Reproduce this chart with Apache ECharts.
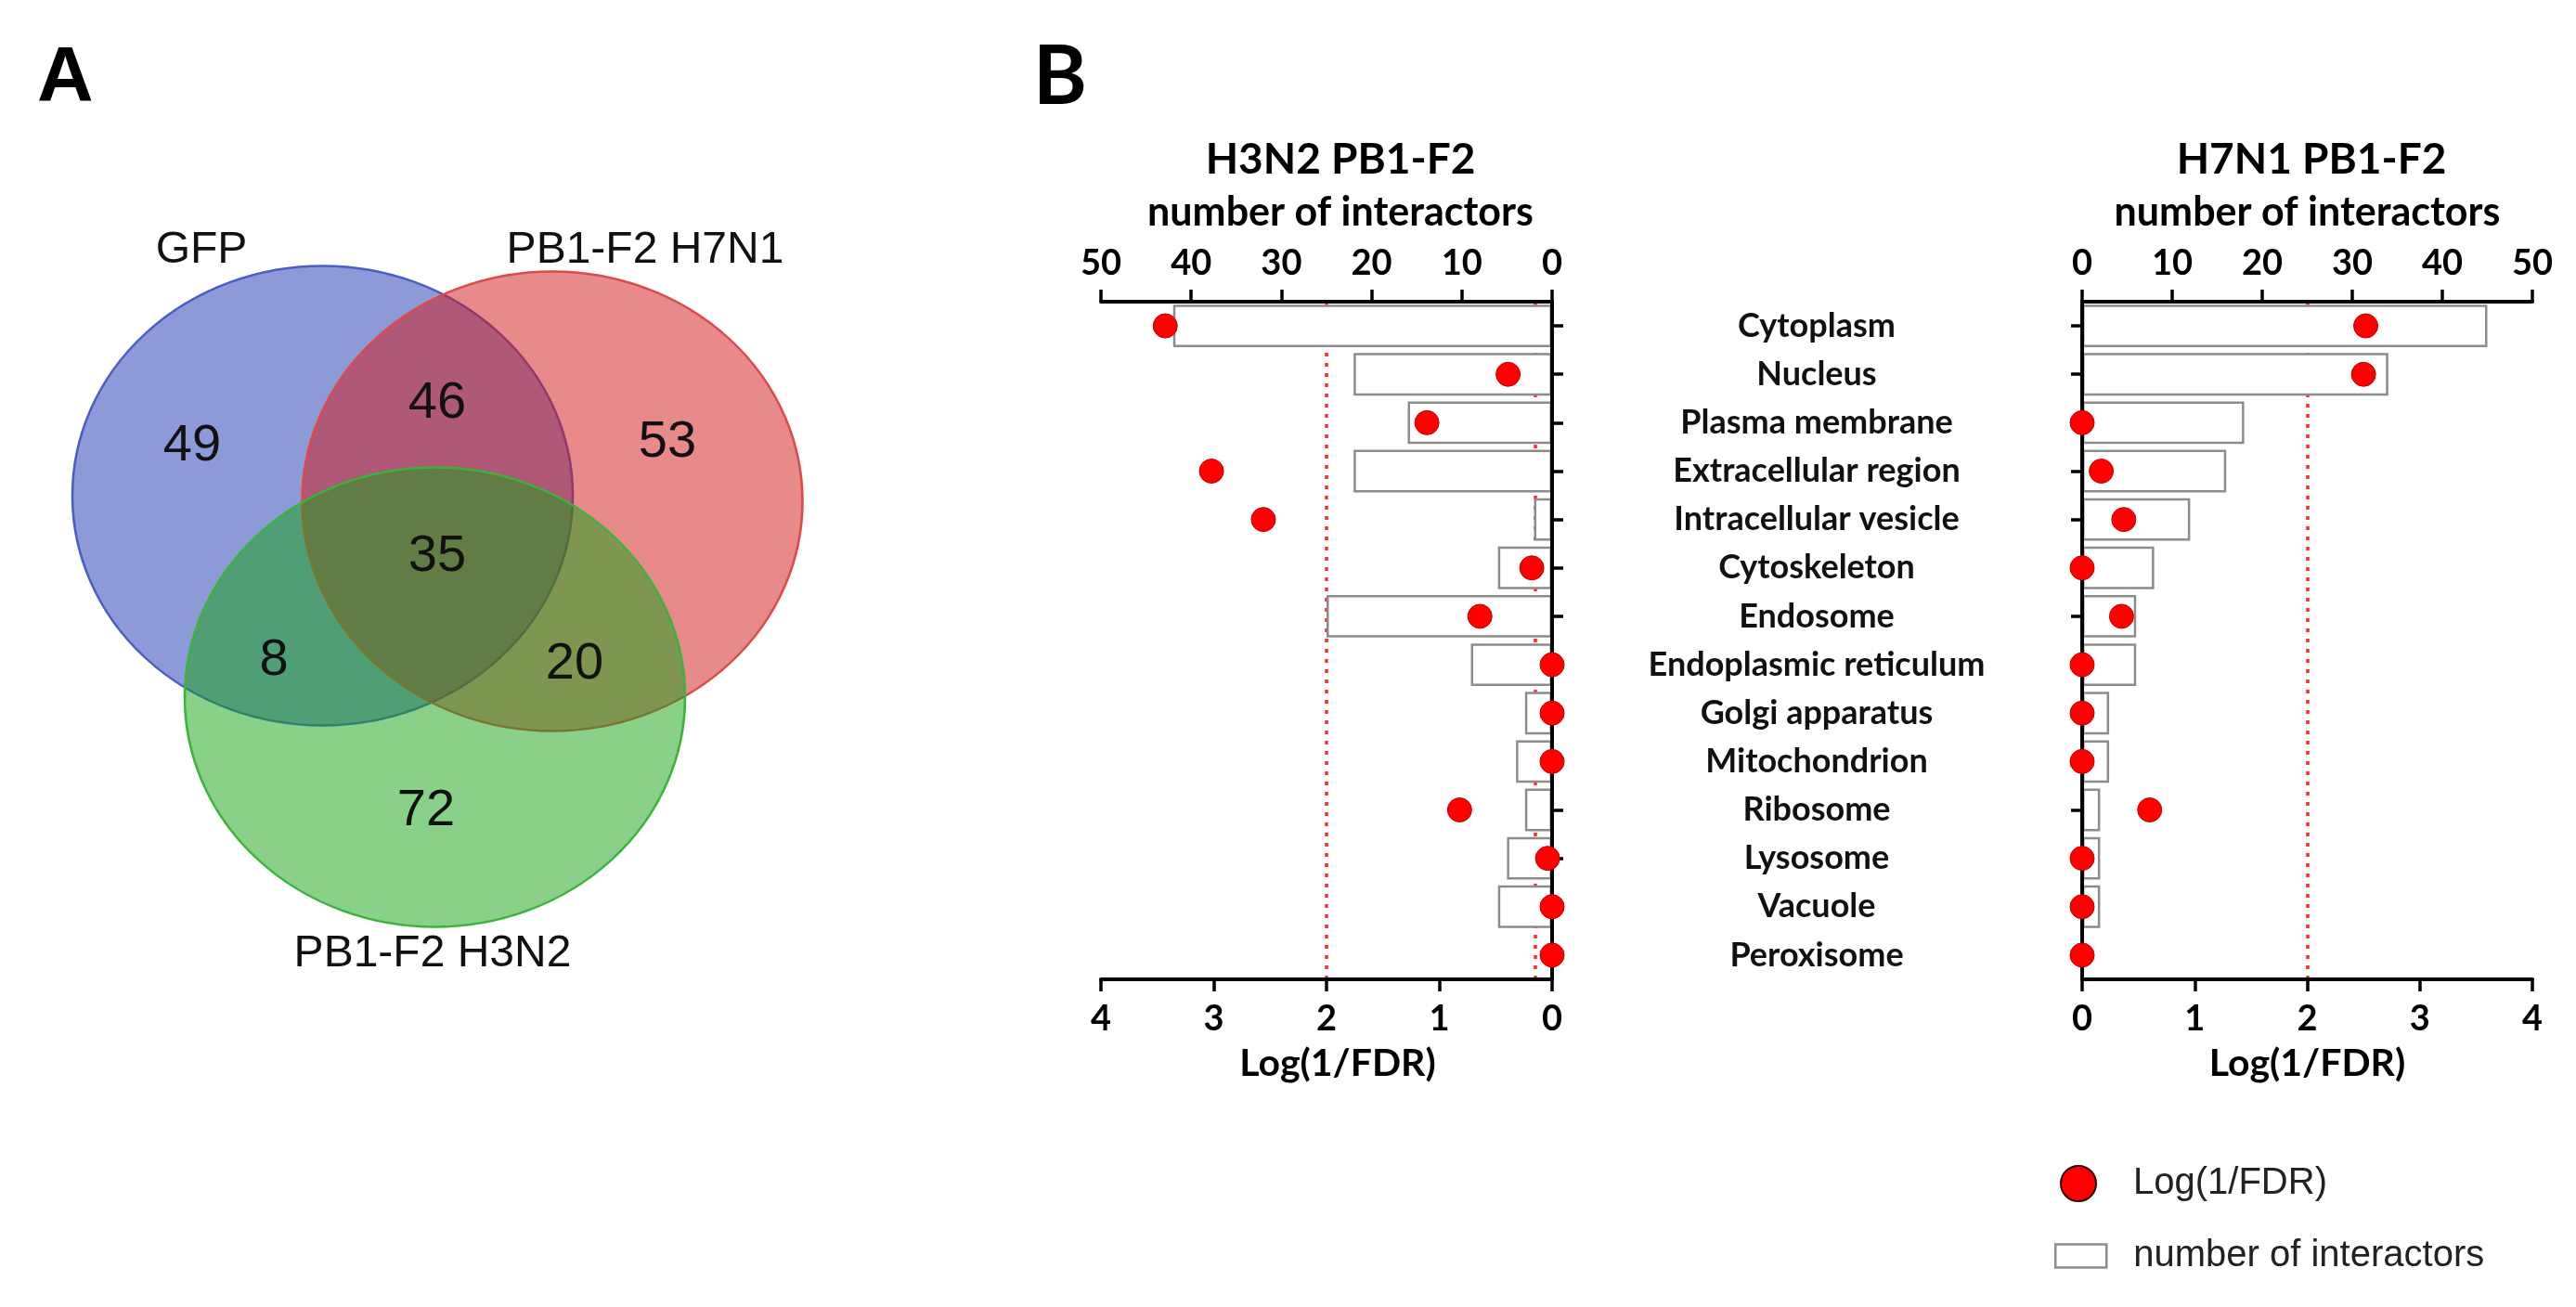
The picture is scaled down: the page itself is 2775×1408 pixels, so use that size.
<!DOCTYPE html>
<html>
<head>
<meta charset="utf-8">
<script src="https://cdn.jsdelivr.net/npm/echarts@6/dist/echarts.min.js"></script>
<style>
  html, body { margin: 0; padding: 0; background: #ffffff; }
  #chart { width: 2775px; height: 1408px; }
</style>
</head>
<body>
<div id="chart"></div>
<script>
// ---------------- data ----------------
const categories = ['Cytoplasm', 'Nucleus', 'Plasma membrane', 'Extracellular region',
  'Intracellular vesicle', 'Cytoskeleton', 'Endosome', 'Endoplasmic reticulum',
  'Golgi apparatus', 'Mitochondrion', 'Ribosome', 'Lysosome', 'Vacuole', 'Peroxisome'];

const h3n2Counts = [42, 22, 16, 22, 2, 6, 25, 9, 3, 4, 3, 5, 6, 0];
const h3n2LogFDR = [3.43, 0.39, 1.11, 3.02, 2.56, 0.18, 0.64, 0, 0, 0, 0.82, 0.04, 0, 0];
const h7n1Counts = [45, 34, 18, 16, 12, 8, 6, 6, 3, 3, 2, 2, 2, 0];
const h7n1LogFDR = [2.52, 2.5, 0, 0.17, 0.37, 0, 0.35, 0, 0, 0, 0.6, 0, 0, 0];

const h3n2Thresholds = [2, 0.15];
const h7n1Thresholds = [2];

const countTicks = [0, 10, 20, 30, 40, 50];
const logTicks = [0, 1, 2, 3, 4];

const vennSets = ['GFP', 'PB1-F2 H7N1', 'PB1-F2 H3N2'];
const vennRegions = ['GFP only', 'H7N1 only', 'H3N2 only', 'GFP & H7N1', 'GFP & H3N2', 'H7N1 & H3N2', 'all three'];
const vennCounts = [49, 53, 72, 46, 8, 20, 35];

// ---------------- layout (pixels in the Venn panel) ----------------
const VENN_CENTERS = [[347.5, 534], [595, 540], [468.5, 751]];
const VENN_SIZE = [539, 495];
const VENN_REGION_POS = [[207, 481], [719, 477], [459, 874], [471, 435], [295, 712], [619, 716], [471, 600]];
const VENN_LABEL_POS = [[217, 270], [695, 270], [466, 1028]];
const VENN_FILL = ['rgba(25,55,178,0.5)', 'rgba(210,22,22,0.5)', 'rgba(20,162,20,0.5)'];
const VENN_BORDER = ['#4a5ec4', '#dc4a4a', '#3db23d'];

const FB = 'Lato, "Open Sans", sans-serif';
const FR = '"Liberation Sans", Arial, sans-serif';

const chart = echarts.init(document.getElementById('chart'), null, { renderer: 'canvas', devicePixelRatio: 1 });

function countAxis(grid, inverse) {
  return {
    type: 'value', gridIndex: grid, position: 'top', inverse: inverse,
    min: countTicks[0], max: countTicks[countTicks.length - 1], interval: countTicks[1] - countTicks[0],
    z: 3,
    axisLine: { show: true, onZero: false, lineStyle: { color: '#000', width: 4 } },
    axisTick: { show: true, length: 13, lineStyle: { color: '#000', width: 3.5 } },
    axisLabel: { show: true, margin: 22, fontFamily: FB, fontWeight: 'bold', fontSize: 38, color: '#000', showMinLabel: true, showMaxLabel: true },
    splitLine: { show: false },
    name: 'number of interactors', nameLocation: 'middle', nameGap: 74,
    nameTextStyle: { fontFamily: FB, fontWeight: 'bold', fontSize: 43, color: '#000', padding: inverse ? [0, 0, 0, 30] : [0, 0, 0, 0] }
  };
}
function logAxis(grid, inverse) {
  return {
    type: 'value', gridIndex: grid, position: 'bottom', inverse: inverse,
    min: logTicks[0], max: logTicks[logTicks.length - 1], interval: logTicks[1] - logTicks[0],
    z: 3,
    axisLine: { show: true, onZero: false, lineStyle: { color: '#000', width: 4 } },
    axisTick: { show: true, length: 13, lineStyle: { color: '#000', width: 3.5 } },
    axisLabel: { show: true, margin: 24, fontFamily: FB, fontWeight: 'bold', fontSize: 38, color: '#000', showMinLabel: true, showMaxLabel: true },
    splitLine: { show: false },
    name: 'Log(1/FDR)', nameLocation: 'middle', nameGap: 70,
    nameTextStyle: { fontFamily: FB, fontWeight: 'bold', fontSize: 41, color: '#000', padding: inverse ? [0, 0, 0, 24] : [0, 0, 0, 0] }
  };
}
function catAxis(grid, pos, showLabels) {
  return {
    type: 'category', gridIndex: grid, position: pos, inverse: true, data: categories,
    z: 3,
    axisLine: { show: true, onZero: false, lineStyle: { color: '#000', width: 4 } },
    axisTick: { show: true, alignWithLabel: true, length: 12, lineStyle: { color: '#000', width: 3.5 } },
    axisLabel: showLabels
      ? { show: true, interval: 0, align: 'center', margin: 285, fontFamily: FB, fontWeight: 'bold', fontSize: 36, color: '#111' }
      : { show: false },
    splitLine: { show: false }
  };
}
const dotStyle = { color: '#ff0000', borderColor: '#c00000', borderWidth: 1, opacity: 1 };
const barStyle = { color: '#ffffff', borderColor: '#8c8c8c', borderWidth: 2.5, opacity: 1 };
function thresholdSeries(xi, yi, vals) {
  return {
    type: 'line', name: 'threshold', xAxisIndex: xi, yAxisIndex: yi, data: [], z: 1,
    markLine: {
      silent: true, z: 1, symbol: ['none', 'none'], label: { show: false },
      lineStyle: { color: '#ff2a2a', width: 3.5, type: [4, 7], opacity: 1 },
      data: vals.map(v => ({ xAxis: v }))
    }
  };
}

const option = {
  backgroundColor: '#ffffff',
  animation: false,
  grid: [
    { left: 1186, top: 325, width: 486, height: 730, containLabel: false },
    { left: 2243, top: 325, width: 485, height: 730, containLabel: false },
    { left: 0, top: 0, width: 1000, height: 1100, containLabel: false }
  ],
  xAxis: [
    countAxis(0, true),
    logAxis(0, true),
    countAxis(1, false),
    logAxis(1, false),
    { type: 'value', gridIndex: 2, min: 0, max: 1000, show: false }
  ],
  yAxis: [
    catAxis(0, 'right', true),
    catAxis(1, 'left', false),
    { type: 'value', gridIndex: 2, min: 0, max: 1100, inverse: true, show: false }
  ],
  legend: [
    {
      selectedMode: false, orient: 'vertical', left: 2219, top: 1255, padding: 0,
      itemWidth: 38, itemHeight: 38,
      data: [{ name: 'Log(1/FDR)', icon: 'circle', itemStyle: { color: '#ff0000', borderColor: '#2a0000', borderWidth: 2, opacity: 1 } }],
      textStyle: { fontFamily: FR, fontSize: 40, color: '#222', padding: [0, 0, 0, 35] }
    },
    {
      selectedMode: false, orient: 'vertical', left: 2213, top: 1333, padding: 0,
      itemWidth: 55, itemHeight: 25,
      data: [{ name: 'number of interactors', icon: 'rect', itemStyle: { color: '#ffffff', borderColor: '#8c8c8c', borderWidth: 2.5 } }],
      textStyle: { fontFamily: FR, fontSize: 40, color: '#222', padding: [0, 0, 0, 24] }
    }
  ],
  graphic: [
    { type: 'text', left: 40, top: 44, style: { text: 'A', font: 'bold 84px ' + FR, fill: '#000' } },
    { type: 'text', left: 1113, top: 40, style: { text: 'B', font: 'bold 88px ' + FB, fill: '#000' } },
    { type: 'text', x: 1444, y: 172, style: { text: 'H3N2 PB1-F2', font: 'bold 46px ' + FB, fill: '#000', align: 'center', verticalAlign: 'middle' } },
    { type: 'text', x: 2490, y: 172, style: { text: 'H7N1 PB1-F2', font: 'bold 46px ' + FB, fill: '#000', align: 'center', verticalAlign: 'middle' } }
  ],
  series: [
    thresholdSeries(1, 0, h3n2Thresholds),
    {
      type: 'bar', name: 'number of interactors', xAxisIndex: 0, yAxisIndex: 0,
      data: h3n2Counts, barCategoryGap: '12%', itemStyle: barStyle, z: 2, silent: true
    },
    {
      type: 'scatter', name: 'Log(1/FDR)', xAxisIndex: 1, yAxisIndex: 0, clip: false,
      data: h3n2LogFDR.map((v, i) => [v, i]), symbol: 'circle', symbolSize: 26, itemStyle: dotStyle, z: 4, silent: true
    },
    thresholdSeries(3, 1, h7n1Thresholds),
    {
      type: 'bar', name: 'number of interactors', xAxisIndex: 2, yAxisIndex: 1,
      data: h7n1Counts, barCategoryGap: '12%', itemStyle: barStyle, z: 2, silent: true
    },
    {
      type: 'scatter', name: 'Log(1/FDR)', xAxisIndex: 3, yAxisIndex: 1, clip: false,
      data: h7n1LogFDR.map((v, i) => [v, i]), symbol: 'circle', symbolSize: 26, itemStyle: dotStyle, z: 4, silent: true
    },
    // Venn diagram
    {
      type: 'scatter', name: 'venn sets', xAxisIndex: 4, yAxisIndex: 2, clip: false, silent: true, z: 1,
      symbol: 'circle', symbolSize: VENN_SIZE,
      data: vennSets.map((s, i) => ({
        name: s, value: VENN_CENTERS[i],
        itemStyle: { color: VENN_FILL[i], borderColor: VENN_BORDER[i], borderWidth: 2.5, opacity: 1 }
      }))
    },
    {
      type: 'scatter', name: 'venn counts', xAxisIndex: 4, yAxisIndex: 2, clip: false, silent: true, z: 5,
      symbolSize: 1, itemStyle: { color: 'rgba(0,0,0,0)', opacity: 1 },
      label: { show: true, position: 'inside', formatter: p => String(p.value[2]), fontFamily: FR, fontSize: 56, color: '#111' },
      data: vennRegions.map((r, i) => ({ name: r, value: [VENN_REGION_POS[i][0], VENN_REGION_POS[i][1], vennCounts[i]] }))
    },
    {
      type: 'scatter', name: 'venn labels', xAxisIndex: 4, yAxisIndex: 2, clip: false, silent: true, z: 5,
      symbolSize: 1, itemStyle: { color: 'rgba(0,0,0,0)', opacity: 1 },
      label: { show: true, position: 'inside', formatter: p => p.name, fontFamily: FR, fontSize: 48, color: '#111' },
      data: vennSets.map((s, i) => ({ name: s, value: VENN_LABEL_POS[i] }))
    }
  ]
};
chart.setOption(option);
</script>
</body>
</html>
